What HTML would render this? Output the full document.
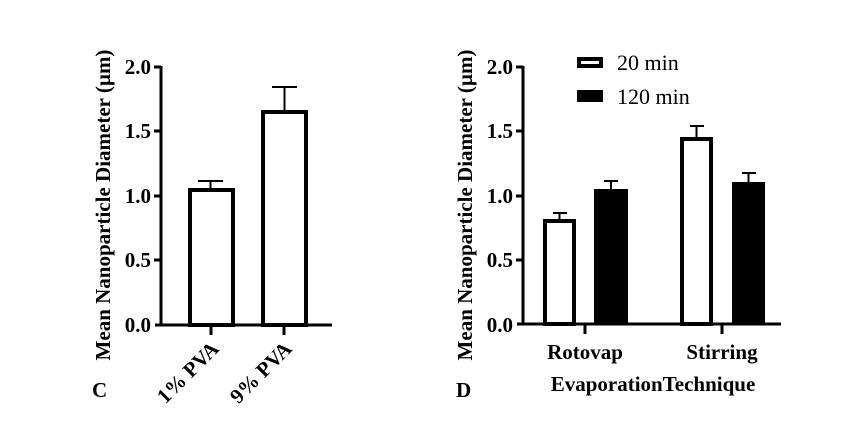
<!DOCTYPE html>
<html><head><style>body{margin:0;background:#fff}svg{display:block}</style></head><body>
<svg width="851" height="435" xmlns="http://www.w3.org/2000/svg" font-family="Liberation Serif, serif">
<rect width="851" height="435" fill="#fff"/>
<!-- Chart C -->
<g stroke="#000" fill="none">
<line x1="161" y1="66" x2="161" y2="326.5" stroke-width="3"/>
<line x1="155" y1="325" x2="332" y2="325" stroke-width="3"/>
<g stroke-width="3">
<line x1="154" y1="67" x2="161" y2="67"/><line x1="154" y1="131" x2="161" y2="131"/>
<line x1="154" y1="196" x2="161" y2="196"/><line x1="154" y1="260" x2="161" y2="260"/>
<line x1="211" y1="325" x2="211" y2="335"/><line x1="284" y1="325" x2="284" y2="335"/>
</g>
<g stroke-width="2">
<line x1="210.5" y1="190" x2="210.5" y2="181"/><line x1="198" y1="181" x2="223" y2="181"/>
<line x1="284.5" y1="112" x2="284.5" y2="87"/><line x1="272" y1="87" x2="297" y2="87"/>
</g>
<rect x="190" y="190" width="43" height="135" stroke-width="4" fill="#fff"/>
<rect x="263" y="112" width="43" height="213" stroke-width="4" fill="#fff"/>
</g>
<g font-size="21" font-weight="bold" text-anchor="end">
<text x="151" y="74">2.0</text><text x="151" y="138">1.5</text>
<text x="151" y="203">1.0</text><text x="151" y="267">0.5</text><text x="151" y="332">0.0</text>
</g>
<text transform="translate(110,205) rotate(-90)" text-anchor="middle" font-size="21" font-weight="bold">Mean Nanoparticle Diameter (µm)</text>
<g font-size="21" font-weight="bold" text-anchor="end">
<text transform="translate(220,350) rotate(-45)">1% PVA</text>
<text transform="translate(293,350) rotate(-45)">9% PVA</text>
</g>
<text x="92" y="397" font-size="21" font-weight="bold">C</text>

<!-- Chart D -->
<g stroke="#000" fill="none">
<line x1="523" y1="66" x2="523" y2="325.5" stroke-width="3"/>
<line x1="517" y1="324" x2="781" y2="324" stroke-width="3"/>
<g stroke-width="3">
<line x1="516" y1="67" x2="523" y2="67"/><line x1="516" y1="131" x2="523" y2="131"/>
<line x1="516" y1="196" x2="523" y2="196"/><line x1="516" y1="260" x2="523" y2="260"/>
<line x1="585" y1="324" x2="585" y2="334"/><line x1="722" y1="324" x2="722" y2="334"/>
</g>
<g stroke-width="2">
<line x1="559.5" y1="219" x2="559.5" y2="213"/><line x1="553" y1="213" x2="567" y2="213"/>
<line x1="611" y1="189" x2="611" y2="181"/><line x1="604" y1="181" x2="618" y2="181"/>
<line x1="696.5" y1="137" x2="696.5" y2="126"/><line x1="690" y1="126" x2="704" y2="126"/>
<line x1="748.5" y1="182" x2="748.5" y2="173"/><line x1="742" y1="173" x2="756" y2="173"/>
</g>
<rect x="545" y="221" width="29" height="103" stroke-width="4" fill="#fff"/>
<rect x="594" y="189" width="34" height="135" fill="#000" stroke="none"/>
<rect x="682" y="139" width="29" height="185" stroke-width="4" fill="#fff"/>
<rect x="732" y="182" width="33" height="142" fill="#000" stroke="none"/>
<rect x="579" y="59" width="22" height="7" stroke-width="4" fill="#fff"/>
</g>
<rect x="577" y="90" width="26" height="12" fill="#000"/>
<g font-size="22">
<text x="617" y="70">20 min</text><text x="617" y="104">120 min</text>
</g>
<g font-size="21" font-weight="bold" text-anchor="end">
<text x="513" y="74">2.0</text><text x="513" y="138">1.5</text>
<text x="513" y="203">1.0</text><text x="513" y="267">0.5</text><text x="513" y="332">0.0</text>
</g>
<text transform="translate(472,205) rotate(-90)" text-anchor="middle" font-size="21" font-weight="bold">Mean Nanoparticle Diameter (µm)</text>
<g font-size="21" font-weight="bold" text-anchor="middle">
<text x="585" y="359">Rotovap</text><text x="722" y="359">Stirring</text>
<text x="653" y="391">EvaporationTechnique</text>
</g>
<text x="456" y="397" font-size="21" font-weight="bold">D</text>
</svg>
</body></html>
